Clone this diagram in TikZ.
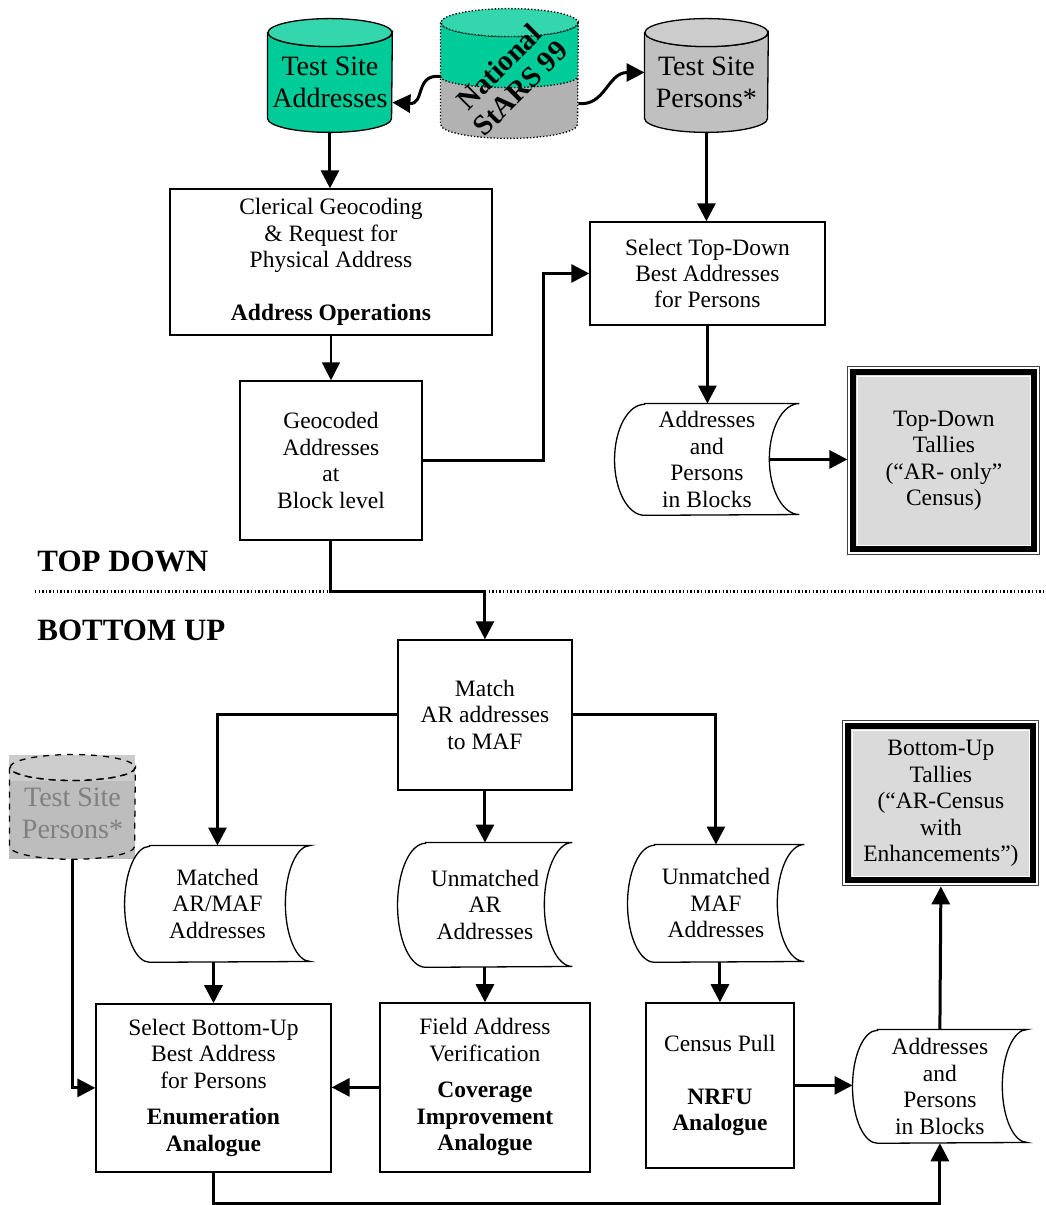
\documentclass[tikz,border=0pt]{standalone}
\usepackage{fontspec}
\setmainfont{Liberation Serif}
\usetikzlibrary{arrows.meta,calc,backgrounds}
\definecolor{dbgreen}{HTML}{00CC99}
\definecolor{dbgreentop}{HTML}{33D6AD}
\definecolor{dbgray}{HTML}{C0C0C0}
\definecolor{dbgraytop}{HTML}{CCCCCC}
\definecolor{starsgray}{HTML}{B2B2B2}
\definecolor{tallygray}{HTML}{DADADA}
\definecolor{ghosttop}{HTML}{CCCCCC}
\definecolor{ghostbody}{HTML}{BDBDBD}
\definecolor{ghosttext}{HTML}{808080}
\newcommand{\boxfont}{\fontsize{11.75pt}{13.25pt}\selectfont}
\newcommand{\dbfont}{\fontsize{14pt}{16pt}\selectfont}
\newcommand{\labelfont}{\fontsize{15.5pt}{18pt}\selectfont\bfseries}
\newcommand{\starsfont}{\fontsize{14.5pt}{15pt}\selectfont\bfseries}
% cylinder outline round a node: name, rx, ry, body fill, top fill
\newcommand{\dbcyl}[6][]{%
  \draw[line width=0.65pt,fill=#5,#1] (#2.north west) -- ($(#2.south west)+(0,-#4)$)
    arc[start angle=180,end angle=0,x radius=#3,y radius=#4] -- (#2.north east)
    arc[start angle=0,end angle=180,x radius=#3,y radius=#4] -- cycle;
  \draw[line width=0.65pt,fill=#6,#1] (#2.north) ellipse[x radius=#3,y radius=#4];
}
% stored data outline round a node: name, curve depth, half height
\newcommand{\storeddata}[3]{%
  \draw[line width=0.65pt,fill=white] ($(#1.north west)+(#2,0)$) -- (#1.north east)
    arc[start angle=270,end angle=90,x radius=#2,y radius=#3] -- ($(#1.south west)+(#2,0)$)
    arc[start angle=90,end angle=270,x radius=#2,y radius=#3] -- cycle;
}
\tikzset{
    procbox/.style={draw=black,line width=0.65pt,align=center,inner sep=0pt,font=\boxfont},
    storenode/.style={align=center,inner sep=0pt,font=\boxfont},
    dbnode/.style={align=center,inner sep=0pt,font=\dbfont},
    tallybox/.style={draw=black!75,line width=0.5pt,align=center,inner sep=0pt,font=\boxfont},
    sectionlabel/.style={anchor=west,inner sep=0pt,font=\labelfont},
    flowarrow/.style={line width=1.5pt,-{Triangle[length=9pt,width=9pt]}},
    thinarrow/.style={line width=0.75pt,-{Triangle[length=9pt,width=9pt]}},
    divider/.style={line width=1.5pt,dash pattern=on 0.7pt off 1.1pt}
}

\begin{document}
\begin{tikzpicture}[x=0.5pt,y=-0.5pt]
  % top down part
  \node[dbnode,minimum width=62pt,minimum height=49.5pt] (addrdb) at (330,82.5) {Test Site\\Addresses};
  \node[dbnode,minimum width=68.5pt,minimum height=57.5pt] (starsdb) at (509.5,80.5) {};
  \node[font=\starsfont,rotate=45,align=center,inner sep=0pt] (starstext) at ($(starsdb.center)+(0,-3)$) {National\\StARS 99};
  \node[dbnode,minimum width=61.5pt,minimum height=49.5pt] (persdb) at (706.5,82.5) {Test Site\\Persons*};
  \node[procbox,minimum width=161pt,minimum height=73pt] (clerical) at (331,262)
    {Clerical Geocoding\\ \& Request for\\ Physical Address\\[13.25pt] \textbf{Address Operations}};
  \node[procbox,minimum width=91pt,minimum height=79.5pt] (geocoded) at (331,460.5) {Geocoded\\Addresses\\at\\Block level};
  \node[procbox,minimum width=117.5pt,minimum height=51.5pt] (selecttd) at (707.5,273.5) {Select Top-Down\\Best Addresses\\for Persons};
  \node[storenode,minimum width=92pt,minimum height=55.5pt] (storetd) at (707,459.5) {Addresses\\and\\Persons\\in Blocks};
  \coordinate (storetdin) at ($(storetd.east)+(-30,0)$);
  \node[tallybox,minimum width=96pt,minimum height=94pt] (tallytd) at (944,461) {Top-Down\\Tallies\\(“AR- only”\\Census)};
  \node[sectionlabel] (topdown) at (37,562) {TOP DOWN};
  \draw[divider] (35,592) -- (1044,592);
  \node[sectionlabel] (bottomup) at (37,630) {BOTTOM UP};
  % bottom up part
  \node[procbox,minimum width=87pt,minimum height=75pt] (match) at (485,715) {Match\\AR addresses\\to MAF};
  \node[dbnode,text=ghosttext,minimum width=62.5pt,minimum height=45.5pt] (ghostdb) at (72.5,813.5) {Test Site\\Persons*};
  \node[storenode,minimum width=92.5pt,minimum height=58pt] (matched) at (217.5,904) {Matched\\AR/MAF\\Addresses};
  \node[storenode,minimum width=87pt,minimum height=62pt] (unmatchedar) at (485,905) {Unmatched\\AR\\Addresses};
  \node[storenode,minimum width=88pt,minimum height=58.5pt] (unmatchedmaf) at (716,903.5) {Unmatched\\MAF\\Addresses};
  \node[tallybox,minimum width=98pt,minimum height=82.5pt] (tallybu) at (941,803.5)
    {Bottom-Up\\Tallies\\(“AR-Census\\with\\Enhancements”)};
  \node[procbox,minimum width=117.5pt,minimum height=84pt] (selectbu) at (213.5,1088)
    {Select Bottom-Up\\Best Address\\for Persons\\[5pt] \textbf{Enumeration}\\ \textbf{Analogue}};
  \node[procbox,minimum width=105pt,minimum height=84.5pt] (fieldav) at (485,1087.5)
    {Field Address\\Verification\\[5pt] \textbf{Coverage}\\ \textbf{Improvement}\\ \textbf{Analogue}};
  \node[procbox,minimum width=74pt,minimum height=82.5pt] (censuspull) at (720,1085.5)
    {Census Pull\\[13.25pt] \textbf{NRFU}\\ \textbf{Analogue}};
  \node[storenode,minimum width=87pt,minimum height=56.5pt] (storebu) at (940,1086.5) {Addresses\\and\\Persons\\in Blocks};

  \begin{scope}[on background layer]
    \fill[white] (0,0) rectangle (1044,1205);
    \dbcyl{addrdb}{62}{14}{dbgreen}{dbgreentop}
    \dbcyl{persdb}{61.5}{14}{dbgray}{dbgraytop}
    % national file, half green half gray
    \fill[starsgray] (starsdb.north west) -- ($(starsdb.south west)+(0,-14)$)
      arc[start angle=180,end angle=0,x radius=68.5,y radius=14] -- (starsdb.north east) -- cycle;
    \fill[dbgreen] (starsdb.north west) -- ($(starsdb.north west)+(0,54)$)
      arc[start angle=180,end angle=0,x radius=68.5,y radius=11] -- (starsdb.north east)
      arc[start angle=0,end angle=180,x radius=68.5,y radius=14] -- cycle;
    \dbcyl[densely dotted]{starsdb}{68.5}{14}{none}{dbgreentop}
    \draw[line width=0.65pt,densely dotted] ($(starsdb.north west)+(0,54)$)
      arc[start angle=180,end angle=0,x radius=68.5,y radius=11];
    % greyed out persons file
    \fill[ghosttop] ($(ghostdb.north west)+(-1,-13)$) rectangle ($(ghostdb.north east)+(0,13)$);
    \fill[ghostbody] ($(ghostdb.north west)+(-1,13)$) rectangle (ghostdb.south east);
    \dbcyl[dashed]{ghostdb}{62.5}{13}{none}{none}
    \storeddata{storetd}{30}{55.5}
    \storeddata{matched}{25}{58}
    \storeddata{unmatchedar}{28}{62}
    \storeddata{unmatchedmaf}{27}{58.5}
    \storeddata{storebu}{25}{56.5}
    \foreach \t in {tallytd,tallybu}{
      \fill[tallygray] ($(\t.north west)+(6,6)$) rectangle ($(\t.south east)+(-6,-6)$);
      \draw[line width=3pt] ($(\t.north west)+(6,6)$) rectangle ($(\t.south east)+(-6,-6)$);
      \draw[white,line width=0.6pt] ($(\t.north west)+(9.8,9.8)$) rectangle ($(\t.south east)+(-9.8,-9.8)$);
    }
  \end{scope}

  % connectors
  \draw[flowarrow] ($(starsdb.west)+(0,-4)$) .. controls ($(starsdb.west)+(-26,-7)$) and ($(addrdb.east)+(33,22)$) .. ($(addrdb.east)+(0,20)$);
  \draw[flowarrow] ($(starsdb.east)+(0,23)$) .. controls ($(starsdb.east)+(27,26)$) and ($(persdb.west)+(-37,-10)$) .. ($(persdb.west)+(0,-10)$);
  \draw[flowarrow] (addrdb.south) -- (addrdb.south |- clerical.north);
  \draw[thinarrow] (clerical.south) -- (geocoded.north);
  \draw[flowarrow] (geocoded.east) -- ++(121,0) |- (selecttd.west);
  \draw[flowarrow] (persdb.south) -- (persdb.south |- selecttd.north);
  \draw[flowarrow] (selecttd.south) -- (selecttd.south |- storetd.north);
  \draw[flowarrow] (storetdin) -- (storetdin -| tallytd.west);
  \draw[flowarrow] (geocoded.south) -- ++(0,51) -| (match.north);
  \draw[flowarrow] (match.west) -| (matched.north);
  \draw[flowarrow] (match.south) -- (unmatchedar.north);
  \draw[flowarrow] (match.east) -| (unmatchedmaf.north);
  \draw[flowarrow] (matched.south -| selectbu.north) -- (selectbu.north);
  \draw[flowarrow] (unmatchedar.south) -- (fieldav.north);
  \draw[flowarrow] (unmatchedmaf.south -| censuspull.north) -- (censuspull.north);
  \draw[flowarrow] (ghostdb.south) |- (selectbu.west);
  \draw[flowarrow] (fieldav.west) -- (fieldav.west -| selectbu.east);
  \draw[flowarrow] (censuspull.east) -- (censuspull.east -| storebu.west);
  \draw[flowarrow] (selectbu.south) -- ++(0,31) -| (storebu.south);
  \draw[flowarrow] (storebu.north) -- (tallybu.south);
\end{tikzpicture}
\end{document}
